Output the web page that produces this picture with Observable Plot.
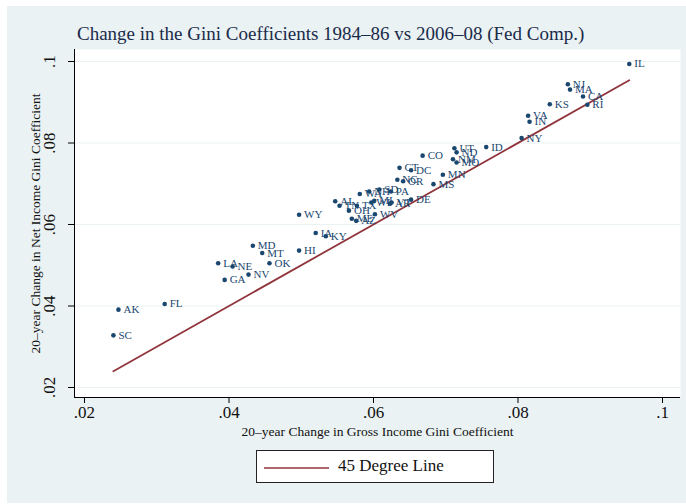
<!DOCTYPE html>
<html><head><meta charset="utf-8">
<script src="https://cdn.jsdelivr.net/npm/d3@7"></script>
<script src="https://cdn.jsdelivr.net/npm/@observablehq/plot@0.6"></script>
<style>
body{margin:0;background:#fff;}
#wrap{position:relative;width:686px;height:504px;overflow:hidden;font-family:"Liberation Serif","Times New Roman",serif;}
#bg{position:absolute;left:7px;top:6px;right:0;bottom:1px;background:#eaf2f3;}
#title{position:absolute;left:77px;top:24px;font-size:19px;color:#1a2a4a;white-space:nowrap;line-height:20px;}
#chart{position:absolute;left:0;top:49px;}
#legend{position:absolute;left:256px;top:450px;width:236px;height:31px;background:#fff;border:1px solid #222;}
#legend svg{position:absolute;left:7px;top:16px;}
#legend span{position:absolute;left:81px;top:5px;font-size:17px;line-height:20px;color:#111;white-space:nowrap;}
</style></head>
<body>
<div id="wrap">
  <div id="bg"></div>
  <div id="title"></div>
  <div id="chart"></div>
  <div id="legend"><svg width="66" height="2"><line x1="0" y1="1" x2="65" y2="1" stroke="#90353b" stroke-width="1.6"/></svg><span id="legtext"></span></div>
</div>
<script>
const titleText = "Change in the Gini Coefficients 1984\u201386 vs 2006\u201308 (Fed Comp.)";
const xTitle = "20\u2013year Change in Gross Income Gini Coefficient";
const yTitle = "20\u2013year Change in Net Income Gini Coefficient";
const legendLabel = "45 Degree Line";

const states = ["AL","AK","AZ","AR","CA","CO","CT","DE","DC","FL","GA","HI","ID","IL","IN","IA","KS","KY","LA","ME","MD","MA","MI","MN","MS","MO","MT","NE","NV","NH","NJ","NM","NY","NC","ND","OH","OK","OR","PA","RI","SC","SD","TN","TX","UT","VT","VA","WA","WV","WI","WY"];
const gross = [0.0547,0.0247,0.0576,0.0623,0.0890,0.0668,0.0636,0.0652,0.0652,0.0311,0.0394,0.0497,0.0756,0.0954,0.0816,0.0520,0.0844,0.0534,0.0385,0.0570,0.0433,0.0872,0.0601,0.0696,0.0683,0.0715,0.0446,0.0405,0.0427,0.0594,0.0869,0.0710,0.0805,0.0633,0.0715,0.0566,0.0456,0.0641,0.0624,0.0896,0.0240,0.0608,0.0553,0.0577,0.0712,0.0625,0.0814,0.0581,0.0602,0.0597,0.0497];
const net   = [0.0657,0.0391,0.0609,0.0651,0.0914,0.0769,0.0739,0.0661,0.0733,0.0405,0.0464,0.0536,0.0790,0.0994,0.0852,0.0579,0.0895,0.0571,0.0505,0.0614,0.0548,0.0931,0.0658,0.0722,0.0699,0.0752,0.0530,0.0497,0.0477,0.0681,0.0944,0.0760,0.0812,0.0710,0.0777,0.0634,0.0505,0.0706,0.0681,0.0894,0.0328,0.0686,0.0646,0.0646,0.0787,0.0654,0.0867,0.0675,0.0625,0.0654,0.0624];

const xTicks = [0.02,0.04,0.06,0.08,0.1];
const yTicks = [0.02,0.04,0.06,0.08,0.1];
const tickLabels = [".02",".04",".06",".08",".1"];
const xDomain = [0.018616, 0.102491];
const yDomain = [0.017546, 0.102945];

const fmt = d => tickLabels[xTicks.findIndex(t => Math.abs(t - d) < 1e-9)];
const idx = d3.range(states.length);
const lineX = [d3.min(gross), d3.max(gross)];

document.getElementById("title").textContent = titleText;
document.getElementById("legtext").textContent = legendLabel;

const navy = "#1a476f";
const chart = Plot.plot({
  width: 686, height: 396,
  marginLeft: 74, marginRight: 6, marginTop: 0, marginBottom: 48,
  style: {background: "transparent", fontFamily: "Liberation Serif, Times New Roman, serif", color: "#111"},
  x: {domain: xDomain, axis: null},
  y: {domain: yDomain, axis: null},
  marks: [
    Plot.frame({fill: "white", stroke: null}),
    Plot.gridY(yTicks, {stroke: "#eaf2f3", strokeOpacity: 1, strokeWidth: 1}),
    Plot.ruleY([yDomain[0]], {stroke: "#000", strokeWidth: 1}),
    Plot.ruleX([xDomain[0]], {stroke: "#000", strokeWidth: 1}),
    Plot.axisX(xTicks, {tickSize: 6, tickPadding: 2, tickFormat: fmt, fontSize: 17, label: null, stroke: "#000"}),
    Plot.axisY(yTicks, {tickSize: 6, tickPadding: 14, tickFormat: fmt, tickRotate: -90, fontSize: 17, label: null, stroke: "#000"}),
    Plot.text([xTitle], {frameAnchor: "bottom", dy: 38, fontSize: 13.5, fill: "#111"}),
    Plot.text([yTitle], {frameAnchor: "left", textAnchor: "middle", dx: -39, rotate: -90, fontSize: 13.5, fill: "#111"}),
    Plot.line(lineX, {x: d => d, y: d => d, stroke: "#90353b", strokeWidth: 1.8}),
    Plot.dot(idx, {x: i => gross[i], y: i => net[i], r: 2.3, fill: navy, stroke: null}),
    Plot.text(idx, {x: i => gross[i], y: i => net[i], text: i => states[i], dx: 5, textAnchor: "start", fontSize: 11, fill: navy})
  ]
});
document.getElementById("chart").appendChild(chart);
</script>
</body></html>
